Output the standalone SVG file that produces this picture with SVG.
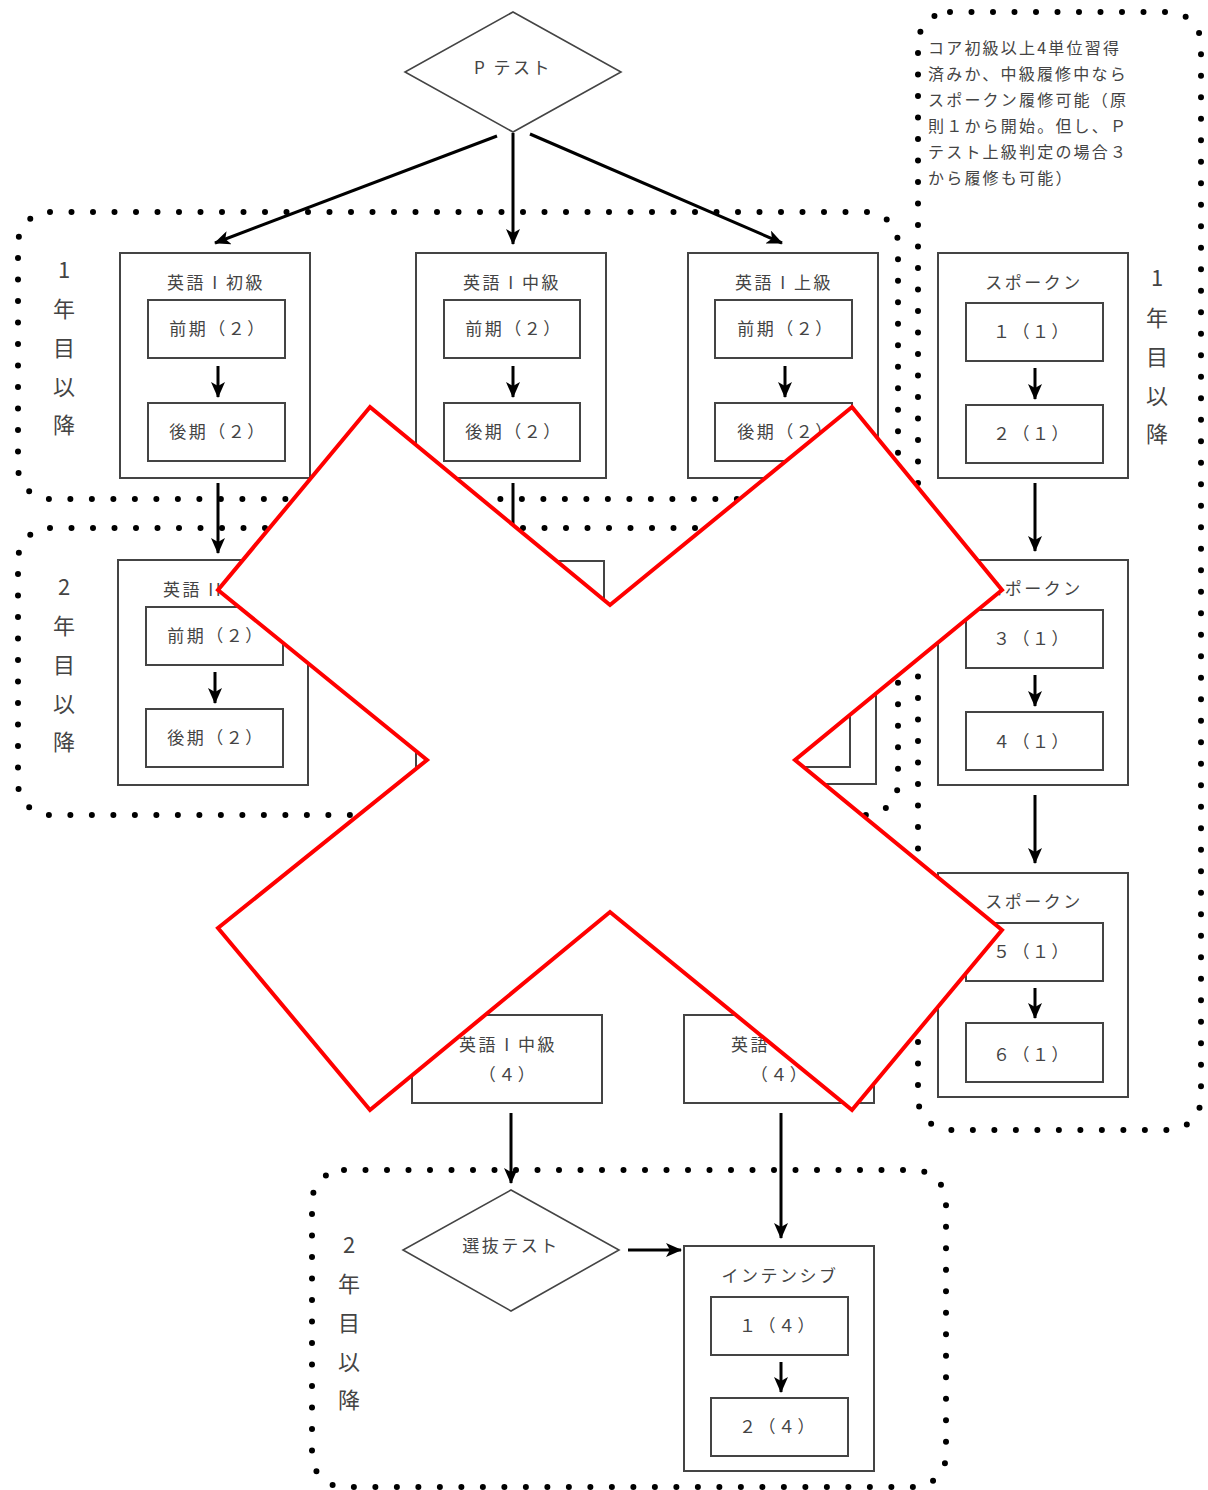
<svg xmlns="http://www.w3.org/2000/svg" width="1208" height="1490" viewBox="0 0 1208 1490">
<style>
.bg{fill:#fff}
.box{fill:#fff;stroke:#444;stroke-width:2}
.dia{fill:#fff;stroke:#444;stroke-width:1.6}
.t{font-family:"Noto Sans CJK JP","Noto Sans",sans-serif;font-size:17px;fill:#444;text-anchor:middle;letter-spacing:2.5px}
.ts{text-anchor:start}
.v{font-size:22px;letter-spacing:0}
.note{font-size:16px;letter-spacing:2.2px;text-anchor:start}
.dot{fill:none;stroke:#000;stroke-width:6;stroke-dasharray:0 21.5;stroke-linecap:round}
.con{stroke:#000;stroke-width:3;fill:none;marker-end:url(#ah)}
.cross{fill:#fff;stroke:#f00;stroke-width:4;stroke-linejoin:miter}
</style>
<defs>
<marker id="ah" viewBox="0 0 16 14" refX="15" refY="7" markerWidth="16" markerHeight="14" markerUnits="userSpaceOnUse" orient="auto">
<path d="M0,0 L16,7 L0,14 L4,7 z" fill="#000"/>
</marker>
</defs>
<rect class="bg" x="0" y="0" width="1208" height="1490"/>

<g id="groups">
<rect id="grp-y1-left" class="dot" x="18" y="212" width="880" height="287" rx="32"/>
<rect id="grp-y2-left" class="dot" x="18" y="528" width="880" height="287" rx="32"/>
<rect id="grp-right" class="dot" x="918" y="12" width="283" height="1118" rx="32"/>
<rect id="grp-bottom" class="dot" x="312" y="1170" width="634" height="317" rx="32"/>
</g>

<g id="labels">
<g id="lbl-y1-left">
<text class="t v" x="64" y="278">1</text><text class="t v" x="64" y="317">年</text><text class="t v" x="64" y="356">目</text><text class="t v" x="64" y="395">以</text><text class="t v" x="64" y="433">降</text>
</g>
<g id="lbl-y2-left">
<text class="t v" x="64" y="595">2</text><text class="t v" x="64" y="634">年</text><text class="t v" x="64" y="673">目</text><text class="t v" x="64" y="712">以</text><text class="t v" x="64" y="750">降</text>
</g>
<g id="lbl-right">
<text class="t v" x="1157" y="286">1</text><text class="t v" x="1157" y="326">年</text><text class="t v" x="1157" y="365">目</text><text class="t v" x="1157" y="404">以</text><text class="t v" x="1157" y="442">降</text>
</g>
<g id="lbl-bottom">
<text class="t v" x="349" y="1253">2</text><text class="t v" x="349" y="1292">年</text><text class="t v" x="349" y="1331">目</text><text class="t v" x="349" y="1370">以</text><text class="t v" x="349" y="1408">降</text>
</g>
<g id="note">
<text class="t note" x="928" y="54">コア初級以上4単位習得</text>
<text class="t note" x="928" y="80">済みか、中級履修中なら</text>
<text class="t note" x="928" y="106">スポークン履修可能（原</text>
<text class="t note" x="928" y="132">則１から開始。但し、Ｐ</text>
<text class="t note" x="928" y="158">テスト上級判定の場合３</text>
<text class="t note" x="928" y="184">から履修も可能）</text>
</g>
</g>

<g id="ptest">
<polygon class="dia" points="513,12 621,72 513,132 405,72"/>
<text class="t" x="513" y="74">P テスト</text>
</g>

<g id="eng1-basic">
<rect class="box" x="120" y="253" width="190" height="225"/>
<text class="t" x="216" y="289">英語 I 初級</text>
<rect class="box" x="148" y="300" width="137" height="58"/>
<text class="t" x="218" y="335">前期（２）</text>
<rect class="box" x="148" y="403" width="137" height="58"/>
<text class="t" x="218" y="438">後期（２）</text>
</g>

<g id="eng1-mid">
<rect class="box" x="416" y="253" width="190" height="225"/>
<text class="t" x="512" y="289">英語 I 中級</text>
<rect class="box" x="444" y="300" width="136" height="58"/>
<text class="t" x="514" y="335">前期（２）</text>
<rect class="box" x="444" y="403" width="136" height="58"/>
<text class="t" x="514" y="438">後期（２）</text>
</g>

<g id="eng1-adv">
<rect class="box" x="688" y="253" width="190" height="225"/>
<text class="t" x="784" y="289">英語 I 上級</text>
<rect class="box" x="715" y="300" width="137" height="58"/>
<text class="t" x="786" y="335">前期（２）</text>
<rect class="box" x="715" y="403" width="137" height="58"/>
<text class="t" x="786" y="438">後期（２）</text>
</g>

<g id="spoken-1">
<rect class="box" x="938" y="253" width="190" height="225"/>
<text class="t" x="1034" y="289">スポークン</text>
<rect class="box" x="966" y="303" width="137" height="58"/>
<text class="t" x="1032" y="338">１（１）</text>
<rect class="box" x="966" y="405" width="137" height="58"/>
<text class="t" x="1032" y="440">２（１）</text>
</g>

<g id="spoken-2">
<rect class="box" x="938" y="560" width="190" height="225"/>
<text class="t" x="1034" y="595">スポークン</text>
<rect class="box" x="966" y="610" width="137" height="58"/>
<text class="t" x="1032" y="645">３（１）</text>
<rect class="box" x="966" y="712" width="137" height="58"/>
<text class="t" x="1032" y="748">４（１）</text>
</g>

<g id="spoken-3">
<rect class="box" x="938" y="873" width="190" height="224"/>
<text class="t" x="1034" y="908">スポークン</text>
<rect class="box" x="966" y="923" width="137" height="58"/>
<text class="t" x="1032" y="958">５（１）</text>
<rect class="box" x="966" y="1023" width="137" height="59"/>
<text class="t" x="1032" y="1061">６（１）</text>
</g>

<g id="eng2-basic">
<rect class="box" x="118" y="560" width="190" height="225"/>
<text class="t ts" x="163" y="596">英語 II</text>
<rect class="box" x="146" y="607" width="137" height="58"/>
<text class="t" x="216" y="642">前期（２）</text>
<rect class="box" x="146" y="709" width="137" height="58"/>
<text class="t" x="216" y="744">後期（２）</text>
</g>

<g id="eng2-mid">
<rect class="box" x="416" y="561" width="188" height="224"/>
<rect class="box" x="444" y="607" width="136" height="58"/>
<rect class="box" x="444" y="709" width="136" height="58"/>
</g>

<g id="eng2-adv">
<rect class="box" x="688" y="560" width="188" height="224"/>
<rect class="box" x="715" y="607" width="135" height="58"/>
<rect class="box" x="715" y="709" width="135" height="58"/>
</g>

<g id="eng1-mid-4">
<rect class="box" x="412" y="1015" width="190" height="88"/>
<text class="t" x="508" y="1051">英語 I 中級</text>
<text class="t" x="508" y="1081">（４）</text>
</g>

<g id="eng1-adv-4">
<rect class="box" x="684" y="1015" width="190" height="88"/>
<text class="t ts" x="731" y="1051">英語</text>
<text class="t" x="780" y="1081">（４）</text>
</g>

<g id="selection-test">
<polygon class="dia" points="511,1190 619,1250 511,1311 403,1250"/>
<text class="t" x="511" y="1252">選抜テスト</text>
</g>

<g id="intensive">
<rect class="box" x="684" y="1246" width="190" height="225"/>
<text class="t" x="780" y="1282">インテンシブ</text>
<rect class="box" x="711" y="1297" width="137" height="58"/>
<text class="t" x="778" y="1332">１（４）</text>
<rect class="box" x="711" y="1398" width="137" height="58"/>
<text class="t" x="778" y="1433">２（４）</text>
</g>

<g id="connectors">
<line class="con" x1="497" y1="136" x2="215" y2="243"/>
<line class="con" x1="513" y1="133" x2="513" y2="244"/>
<line class="con" x1="530" y1="134" x2="782" y2="243"/>
<line class="con" x1="218" y1="366" x2="218" y2="397"/>
<line class="con" x1="513" y1="366" x2="513" y2="397"/>
<line class="con" x1="785" y1="366" x2="785" y2="397"/>
<line class="con" x1="1035" y1="368" x2="1035" y2="399"/>
<line class="con" x1="218" y1="483" x2="218" y2="553"/>
<line class="con" x1="513" y1="483" x2="513" y2="553"/>
<line class="con" x1="215" y1="672" x2="215" y2="703"/>
<line class="con" x1="1035" y1="483" x2="1035" y2="551"/>
<line class="con" x1="1035" y1="675" x2="1035" y2="706"/>
<line class="con" x1="1035" y1="795" x2="1035" y2="863"/>
<line class="con" x1="1035" y1="988" x2="1035" y2="1018"/>
<line class="con" x1="511" y1="1113" x2="511" y2="1183"/>
<line class="con" x1="781" y1="1113" x2="781" y2="1238"/>
<line class="con" x1="628" y1="1250" x2="681" y2="1250"/>
<line class="con" x1="781" y1="1362" x2="781" y2="1392"/>
</g>

<g id="cross">
<polygon class="cross" points="370,407 610,605 852,407 1002,590 795,760 1002,930 852,1110 610,912 370,1110 218,928 427,760 218,590"/>
</g>
</svg>
